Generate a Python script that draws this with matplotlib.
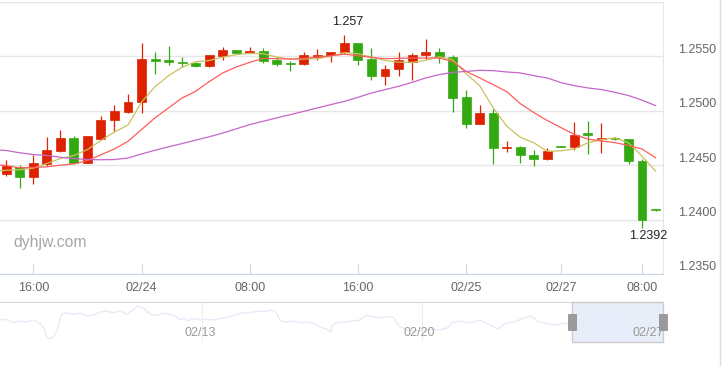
import numpy as np
import matplotlib
matplotlib.use('Agg')
import matplotlib.pyplot as plt
import matplotlib.transforms as mtransforms
from matplotlib.patches import Rectangle
from matplotlib.lines import Line2D

plt.rcParams['font.family'] = ['Liberation Sans', 'DejaVu Sans']

# hourly candles, 02/23 14:00 -> 02/27 09:00
opens = [1.2442, 1.2448, 1.2439, 1.2451, 1.2463, 1.2475, 1.2452, 1.2474, 1.2492, 1.2499,
         1.2508, 1.2548, 1.2547, 1.2545, 1.2544, 1.2541, 1.2550, 1.2556, 1.2553, 1.2555,
         1.2547, 1.2544, 1.2543, 1.2549, 1.2551, 1.2554, 1.2562, 1.2548, 1.2532, 1.2538,
         1.2545, 1.2551, 1.2554, 1.2549, 1.2513, 1.2488, 1.2498, 1.2466, 1.2467, 1.2459,
         1.2456, 1.2468, 1.2467, 1.2480, 1.2474, 1.2475, 1.2474, 1.2454, 1.2410]
highs = [1.2455, 1.2450, 1.2459, 1.2476, 1.2482, 1.2477, 1.2477, 1.2495, 1.2505, 1.2515,
         1.2562, 1.2554, 1.2560, 1.2549, 1.2545, 1.2551, 1.2559, 1.2556, 1.2559, 1.2558,
         1.2549, 1.2546, 1.2554, 1.2557, 1.2554, 1.2570, 1.2562, 1.2558, 1.2542, 1.2554,
         1.2553, 1.2566, 1.2558, 1.2551, 1.2519, 1.2505, 1.2502, 1.2472, 1.2468, 1.2464,
         1.2466, 1.2468, 1.2490, 1.2491, 1.2489, 1.2476, 1.2474, 1.2456, 1.2410]
lows = [1.2440, 1.2429, 1.2433, 1.2449, 1.2462, 1.2451, 1.2452, 1.2474, 1.2481, 1.2498,
        1.2498, 1.2534, 1.2542, 1.2540, 1.2540, 1.2540, 1.2547, 1.2553, 1.2553, 1.2544,
        1.2541, 1.2537, 1.2542, 1.2547, 1.2545, 1.2552, 1.2542, 1.2528, 1.2524, 1.2532,
        1.2528, 1.2548, 1.2544, 1.2499, 1.2484, 1.2488, 1.2451, 1.2462, 1.2452, 1.2449,
        1.2455, 1.2467, 1.2464, 1.2460, 1.2461, 1.2473, 1.2451, 1.2392, 1.2408]
closes = [1.2449, 1.2439, 1.2452, 1.2464, 1.2475, 1.2452, 1.2477, 1.2492, 1.2500, 1.2508,
          1.2548, 1.2546, 1.2545, 1.2544, 1.2541, 1.2551, 1.2556, 1.2553, 1.2555, 1.2546,
          1.2543, 1.2543, 1.2551, 1.2551, 1.2554, 1.2562, 1.2547, 1.2532, 1.2538, 1.2547,
          1.2551, 1.2554, 1.2549, 1.2512, 1.2488, 1.2498, 1.2466, 1.2467, 1.2459, 1.2456,
          1.2463, 1.2467, 1.2478, 1.2478, 1.2475, 1.2474, 1.2454, 1.2400, 1.2409]

# moving averages, first value is one candle before the visible window
ma_fast = [1.24442, 1.24454, 1.24458, 1.24473, 1.24516, 1.24561, 1.24589, 1.24644, 1.24727, 1.24805,
           1.24869, 1.25080, 1.25222, 1.25323, 1.25401, 1.25451, 1.25462, 1.25493, 1.25516, 1.25528,
           1.25525, 1.25494, 1.25474, 1.25476, 1.25479, 1.25502, 1.25534, 1.25525, 1.25493, 1.25462,
           1.25447, 1.25445, 1.25463, 1.25497, 1.25470, 1.25341, 1.25231, 1.25027, 1.24858, 1.24757,
           1.24706, 1.24628, 1.24632, 1.24650, 1.24706, 1.24736, 1.24751, 1.24706, 1.24583, 1.24445]
ma_mid = [1.24506, 1.24497, 1.24476, 1.24479, 1.24485, 1.24500, 1.24513, 1.24543, 1.24596, 1.24649,
          1.24720, 1.24828, 1.24935, 1.25027, 1.25118, 1.25179, 1.25268, 1.25348, 1.25403, 1.25445,
          1.25482, 1.25479, 1.25476, 1.25482, 1.25494, 1.25506, 1.25520, 1.25506, 1.25491, 1.25479,
          1.25482, 1.25485, 1.25485, 1.25485, 1.25454, 1.25362, 1.25302, 1.25240, 1.25176, 1.25066,
          1.24984, 1.24910, 1.24846, 1.24782, 1.24740, 1.24722, 1.24708, 1.24681, 1.24649, 1.24568]
ma_slow = [1.24644, 1.24635, 1.24614, 1.24598, 1.24589, 1.24573, 1.24561, 1.24552, 1.24550, 1.24552,
           1.24566, 1.24603, 1.24638, 1.24669, 1.24699, 1.24730, 1.24761, 1.24795, 1.24834, 1.24873,
           1.24904, 1.24935, 1.24965, 1.24995, 1.25027, 1.25057, 1.25087, 1.25124, 1.25164, 1.25195,
           1.25225, 1.25261, 1.25302, 1.25332, 1.25353, 1.25362, 1.25372, 1.25369, 1.25357, 1.25348,
           1.25323, 1.25302, 1.25259, 1.25231, 1.25210, 1.25195, 1.25170, 1.25140, 1.25098, 1.25048]

xtick_idx = [2, 10, 18, 26, 34, 41, 47]
xtick_labels = ['16:00', '02/24', '08:00', '16:00', '02/25', '02/27', '08:00']
ytick_vals = [1.2350, 1.2400, 1.2450, 1.2500, 1.2550]

# navigator (hours since start of history, close)
nav_hours = [0, 4, 7, 11, 14, 18, 22, 24, 25, 27, 29, 31, 33, 36, 39, 43, 47, 50, 54, 57,
             61, 65, 68, 72, 74, 77, 81, 84, 88, 92, 95, 97, 99, 101, 104, 108, 111, 115, 118, 122,
             126, 129, 133, 136, 140, 144, 147, 149, 151, 154, 158, 162, 165, 169, 172, 176, 178, 179, 181, 185,
             190, 194, 197, 201, 205, 208, 212, 215, 219, 223, 226, 230, 233, 237, 241, 244, 248, 251, 255, 258,
             264, 268, 272, 277, 282, 286, 290, 294, 299, 304, 309, 314, 319, 324, 329, 334, 339, 344, 349, 354, 357]
nav_close = [1.2400, 1.2407, 1.2373, 1.2390, 1.2380, 1.2400, 1.2357, 1.2307, 1.2223, 1.2213,
             1.2240, 1.2307, 1.2457, 1.2473, 1.2457, 1.2467, 1.2440, 1.2447, 1.2480, 1.2490,
             1.2473, 1.2493, 1.2457, 1.2507, 1.2540, 1.2523, 1.2457, 1.2447, 1.2467, 1.2457,
             1.2433, 1.2400, 1.2423, 1.2390, 1.2413, 1.2400, 1.2407, 1.2400, 1.2413, 1.2423,
             1.2447, 1.2465, 1.2473, 1.2480, 1.2487, 1.2490, 1.2500, 1.2467, 1.2390, 1.2380,
             1.2390, 1.2373, 1.2380, 1.2367, 1.2333, 1.2307, 1.2280, 1.2347, 1.2373, 1.2380,
             1.2390, 1.2400, 1.2447, 1.2433, 1.2423, 1.2433, 1.2423, 1.2340, 1.2300, 1.2290,
             1.2290, 1.2300, 1.2307, 1.2300, 1.2323, 1.2380, 1.2390, 1.2373, 1.2380, 1.2400,
             1.2350, 1.2307, 1.2367, 1.2383, 1.2417, 1.2440, 1.2383, 1.2367, 1.2350, 1.2367,
             1.2350, 1.2383, 1.2500, 1.2517, 1.2527, 1.2517, 1.2533, 1.2450, 1.2367, 1.2383, 1.2400]
nav_tick_hours = [109, 227, 350]
nav_tick_labels = ['02/13', '02/20', '02/27']

RED = '#dd2200'
GREEN = '#33a911'

fig = plt.figure(figsize=(7.25, 3.66), dpi=100)
W, H = 725, 366

# main price panel
ax = fig.add_axes([0, 1 - 274 / H, 663 / W, 272 / H])
o, h, l, c = map(np.array, (opens, highs, lows, closes))
x = np.arange(len(o))
cols = [RED if cc >= oo else GREEN for oo, cc in zip(o, c)]
ax.vlines(x, l, h, colors=cols, lw=0.9, zorder=2)
ax.bar(x, np.abs(c - o), bottom=np.minimum(o, c), width=0.66, color=cols,
       edgecolor=cols, lw=0.5, zorder=3)

xm = np.arange(-1, len(ma_fast) - 1)
ax.plot(xm, ma_fast, color='#c9c15c', lw=0.9, zorder=4)
ax.plot(xm, ma_mid, color='#ff5c5c', lw=0.9, zorder=4)
ax.plot(xm, ma_slow, color='#c665c9', lw=0.9, zorder=4)

ax.set_xlim(-0.462, 48.55)
ax.set_ylim(1.2350, 1.2600)
ax.set_yticks(ytick_vals + [1.2600])
ax.tick_params(axis='y', length=0, labelleft=False, labelright=False)
ax.grid(axis='y', color='#e6e6e6', lw=1)
ax.set_axisbelow(True)
for s in ['left', 'top']:
    ax.spines[s].set_visible(False)
ax.spines['right'].set_color('#e6e6e6')
ax.spines['bottom'].set_color('#ccd6eb')

ax.set_xticks(xtick_idx)
ax.set_xticklabels(xtick_labels)
ax.tick_params(axis='x', direction='in', length=7.2, width=0.8, color='#ccd6eb',
               labelsize=9, labelcolor='#666666', pad=5.8)

ytrans = mtransforms.blended_transform_factory(ax.transAxes, ax.transData)
ytrans = mtransforms.offset_copy(ytrans, fig=fig, x=15, y=6.5, units='dots')
for v in ytick_vals:
    ax.text(1.0, v, f'{v:.4f}', transform=ytrans, ha='left', va='center',
            fontsize=9, color='#666666', clip_on=False)

# max / min labels
imax = int(np.argmax(h))
imin = int(np.argmin(l))
ax.annotate(f'{h[imax]:g}', (imax, h[imax]), xytext=(3, 7), textcoords='offset pixels',
            ha='center', va='bottom', fontsize=9, color='#222222')
ax.annotate(f'{l[imin]:g}', (imin, l[imin]), xytext=(6, -2), textcoords='offset pixels',
            ha='center', va='top', fontsize=9, color='#222222')

fig.text(13 / W, 1 - 242 / H, 'dyhjw.com', fontsize=11.3, color='#a6a6a6',
         ha='left', va='center')

# navigator
axn = fig.add_axes([0, 1 - 342 / H, 663 / W, 40 / H])
axn.set_xlim(0, nav_hours[-1])
axn.set_ylim(1.2180, 1.2580)
axn.axis('off')
for t, lab in zip(nav_tick_hours, nav_tick_labels):
    axn.axvline(t, color='#eeeeee', lw=0.8, zorder=0)
    axn.annotate(lab, (t, 1.2265), xytext=(-2, 0), textcoords='offset pixels',
                 ha='center', va='center', fontsize=9, color='#999999', zorder=5)
axn.plot(nav_hours, nav_close, color='#e4ecf6', lw=1.0, zorder=1)
axn.axhline(1.2580, color='#cccccc', lw=1.2, zorder=2)
sel_start = nav_hours[-1] - len(opens)
axn.add_patch(Rectangle((sel_start, 1.2180), nav_hours[-1] - sel_start, 0.0400,
                        facecolor='#e3ecf8', edgecolor='#c4c4c4', alpha=0.85, lw=1.0,
                        zorder=3, clip_on=False))
for hx in (sel_start, nav_hours[-1]):
    axn.add_patch(Rectangle((hx - 2.4, 1.2300), 4.8, 0.0160, facecolor='#9a9a9a',
                            edgecolor='#8a8a8a', lw=0.5, zorder=6, clip_on=False))

fig.add_artist(Line2D([720 / W, 720 / W], [0, 1], color='#dddddd', lw=1))

fig.savefig('out.png', dpi=100)
